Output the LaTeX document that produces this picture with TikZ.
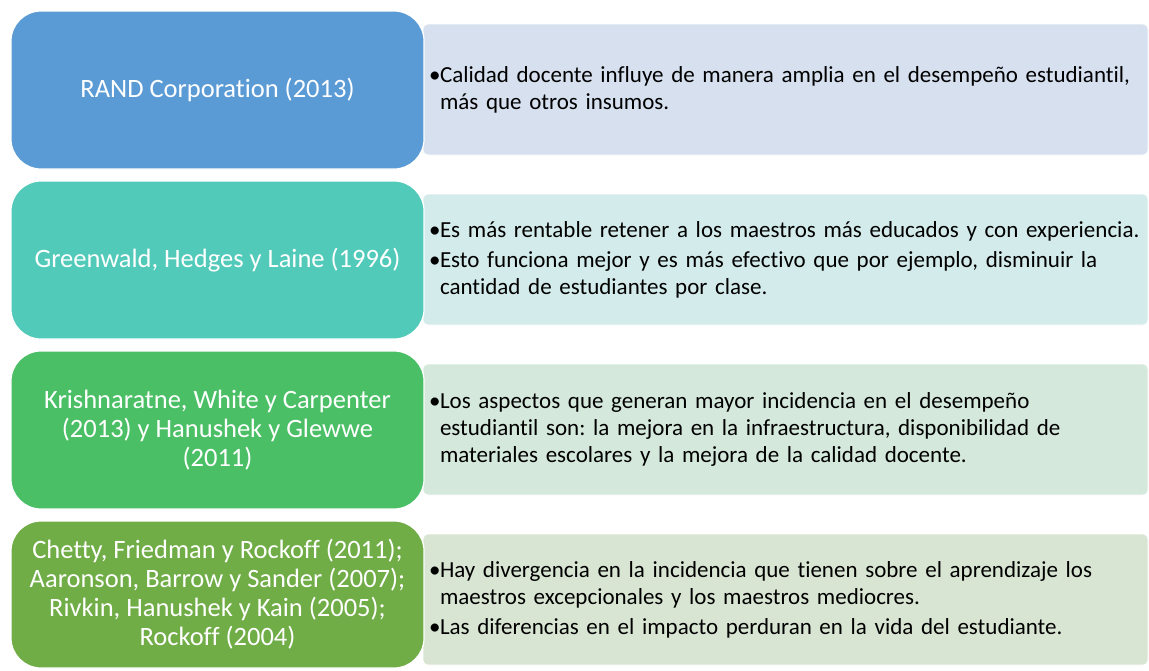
\documentclass[tikz,border=0pt]{standalone}
\usepackage{fontspec}
\setmainfont{Carlito}[Ligatures=NoCommon]
\usetikzlibrary{positioning,backgrounds}
\definecolor{headblue}{HTML}{5B9BD5}
\definecolor{bodyblue}{HTML}{D6E0EF}
\definecolor{headteal}{HTML}{52CABA}
\definecolor{bodyteal}{HTML}{D3EBEA}
\definecolor{headgreen}{HTML}{4ABF65}
\definecolor{bodygreen}{HTML}{D4E8DB}
\definecolor{headolive}{HTML}{70AD47}
\definecolor{bodyolive}{HTML}{D9E5D3}
\frenchspacing
% bullet with hanging indent; \bnext opens a further bullet, \bstop closes the list
\newcommand{\bpoint}{\hangindent=11pt\hangafter=1\noindent\makebox[11pt][l]{\textbullet}}
\newcommand{\bnext}{\par\vspace{3pt}\bpoint}
\newcommand{\bstop}{\par}
\begin{document}
\begin{tikzpicture}[x=1pt, y=-1pt, line join=round]
  \tikzset{head/.style={rectangle, rounded corners=30pt, draw=white, line width=1.2pt, outer sep=0pt, text=white, minimum width=413pt, minimum height=158pt, inner sep=0pt, align=center, font=\fontsize{26.5}{29}\selectfont},
    body/.style={rectangle, rounded corners=5pt, draw=white, line width=.6pt, outer sep=0pt, anchor=north west, minimum width=725pt, minimum height=131pt, text width=713pt, inner xsep=6pt, align=left, font=\fontsize{23}{27}\selectfont}}
  \useasboundingbox (0,0) rectangle (1149,670);

  % left column: the cited authors
  \node[head, fill=headblue] (lbox1) at (217.5,90) {RAND Corporation (2013)};
  \node[head, fill=headteal, below=12pt of lbox1] (lbox2) {Greenwald, Hedges y Laine (1996)};
  \node[head, fill=headgreen, below=12pt of lbox2] (lbox3) {Krishnaratne, White y Carpenter\\(2013) y Hanushek y Glewwe\\(2011)};
  \node[head, fill=headolive, minimum height=147pt, below=12pt of lbox3] (lbox4) {Chetty, Friedman y Rockoff (2011);\\Aaronson, Barrow y Sander (2007);\\Rivkin, Hanushek y Kain (2005);\\Rockoff (2004)};

  % right column: the findings, tucked behind the heads
  \begin{scope}[on background layer]
    \node[body, fill=bodyblue] (rbox1) at ([shift={(-1,13)}]lbox1.north east) {\bpoint Calidad docente influye de manera amplia en el desempeño estudiantil,\newline más que otros insumos.\bstop};
    \node[body, fill=bodyteal] (rbox2) at ([shift={(-1,13)}]lbox2.north east) {\bpoint Es más rentable retener a los maestros más educados y con experiencia.\bnext Esto funciona mejor y es más efectivo que por ejemplo, disminuir la\newline cantidad de estudiantes por clase.\bstop};
    \node[body, fill=bodygreen] (rbox3) at ([shift={(-1,13)}]lbox3.north east) {\bpoint Los aspectos que generan mayor incidencia en el desempeño\newline estudiantil son: la mejora en la infraestructura, disponibilidad de\newline materiales escolares y la mejora de la calidad docente.\bstop};
    \node[body, fill=bodyolive] (rbox4) at ([shift={(-1,13)}]lbox4.north east) {\bpoint Hay divergencia en la incidencia que tienen sobre el aprendizaje los\newline maestros excepcionales y los maestros mediocres.\bnext Las diferencias en el impacto perduran en la vida del estudiante.\bstop};
  \end{scope}
\end{tikzpicture}
\end{document}
